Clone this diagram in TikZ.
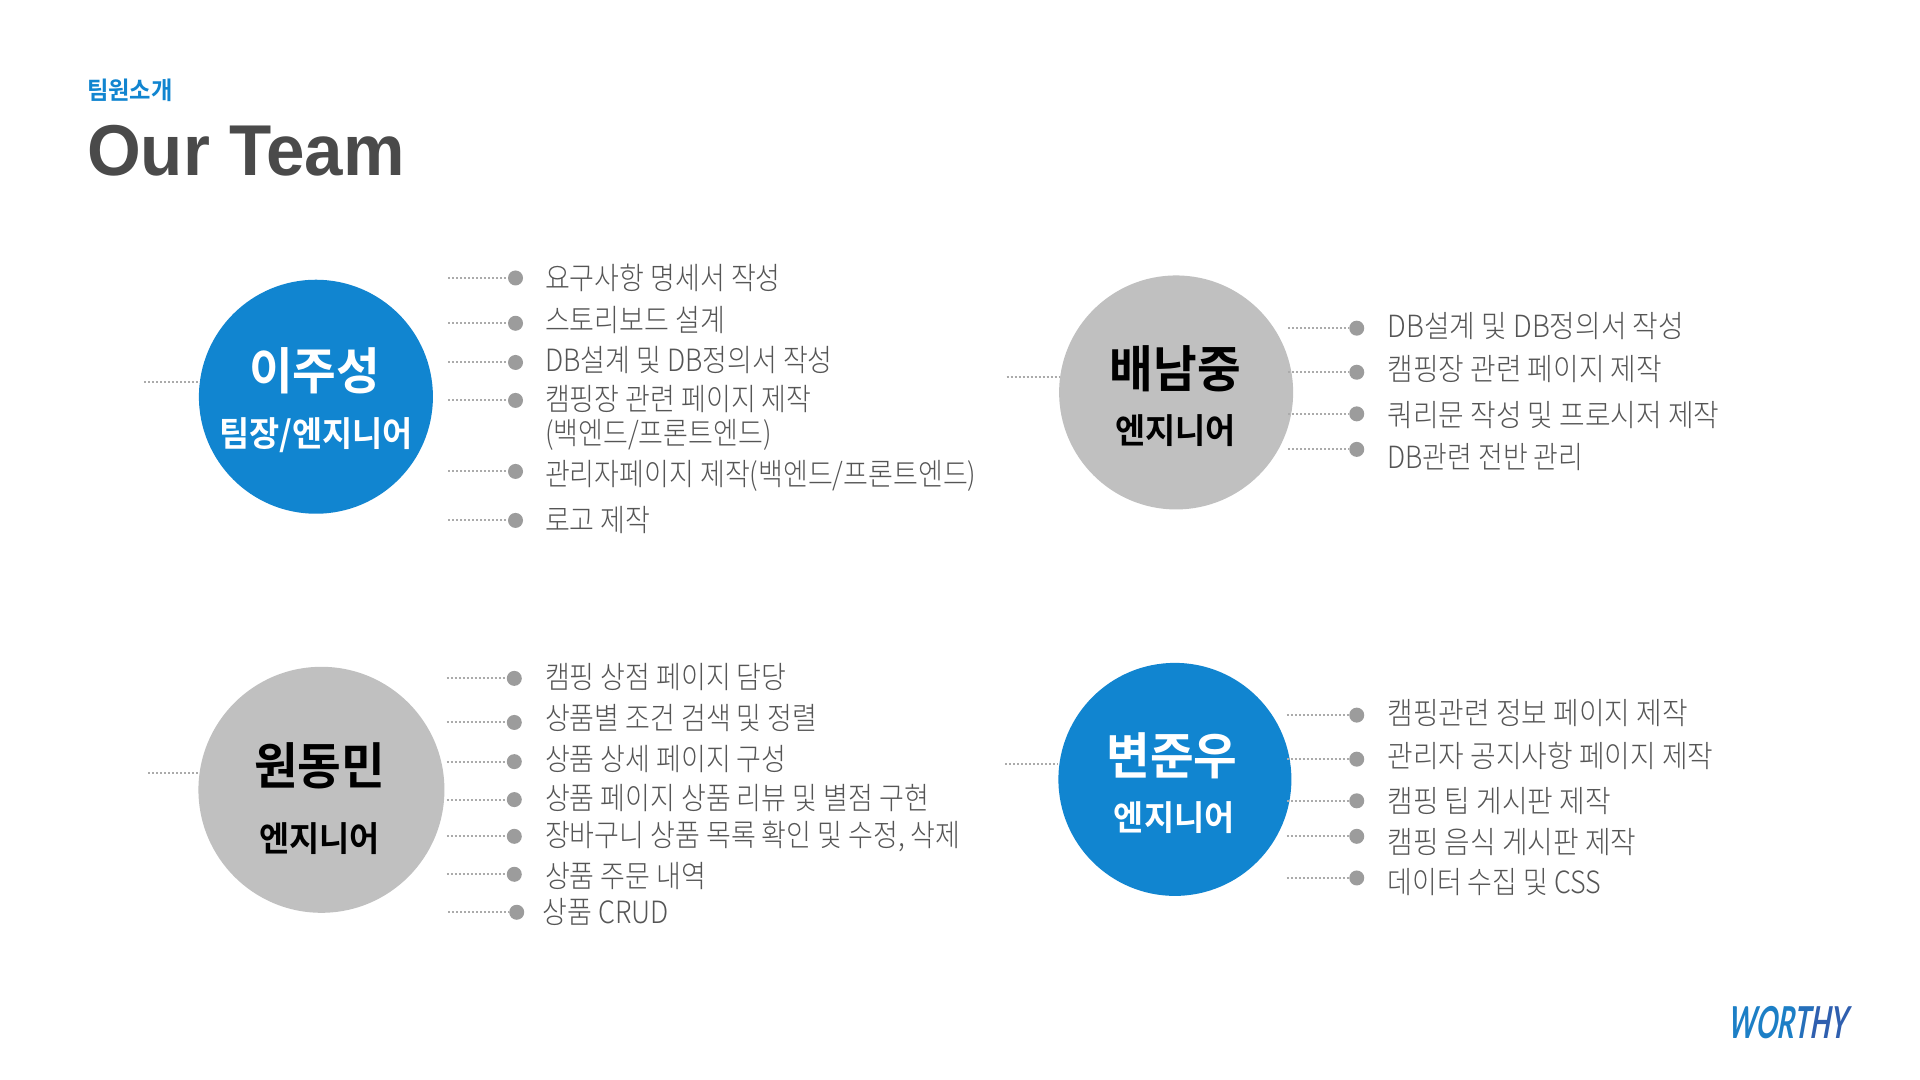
\documentclass[tikz,border=0pt]{standalone}
\usepackage{fontspec}
\setmainfont{Noto Sans CJK KR}
\newfontfamily\krnarrow[FakeStretch=0.88,UprightFont={* Light}]{Noto Sans CJK KR}
\newfontfamily\krwide[FakeStretch=0.91,UprightFont={* Light}]{Noto Sans CJK KR}
\newfontfamily\krbold[FakeStretch=0.95,UprightFont={* Bold}]{Noto Sans CJK KR}
\newfontfamily\titlefont[FakeStretch=0.96]{Liberation Sans}
\newfontfamily\logofont[FakeSlant=0.18,FakeStretch=0.6]{Lato}
\definecolor{teamblue}{HTML}{1185D0}
\definecolor{teamgray}{HTML}{C0C0C0}
\definecolor{dotgray}{HTML}{9C9C9C}
\definecolor{linegray}{HTML}{ABABAB}
\definecolor{bodytext}{HTML}{555555}
\definecolor{titletext}{HTML}{4A4A4A}
\definecolor{logoa}{HTML}{1C7FC6}
\definecolor{logob}{HTML}{2F5FAF}
\tikzset{
  x=1.22449pt,y=-1.22449pt,
  person/.style={circle,minimum size=#1,inner sep=0pt},
  blueperson/.style={person=#1,fill=teamblue},
  grayperson/.style={person=#1,fill=teamgray},
  bigname/.style={inner sep=0pt,font=\krbold\fontsize{50}{50}\selectfont},
  rolename/.style={inner sep=0pt,font=\krbold\fontsize{34.5}{34.5}\selectfont},
  item/.style={anchor=west,inner sep=0pt,text=bodytext,text height=23pt,text depth=0pt,font=\krnarrow\fontsize{30.6}{30.6}\selectfont},
  bullet/.style={circle,fill=dotgray,minimum size=15pt,inner sep=0pt},
  dots/.style={linegray,line width=2pt,dash pattern=on 2pt off 2pt},
}
\newcommand{\itemrow}[8][]{% options, name, line start x, dot x, dot y, text x, text y, text
  \coordinate (#2l) at (#3,#5);
  \node[bullet] (#2d) at (#4,#5) {};
  \draw[dots] (#2l) -- (#2d);
  \node[item,#1] (#2t) at (#6,#7) {#8};
}
\begin{document}
\begin{tikzpicture}
\useasboundingbox (0,0) rectangle (1568,882);
\fill[white] (0,0) rectangle (1568,882);
\node[anchor=west,inner sep=0pt,text=teamblue,font=\krbold\fontsize{24.5}{24.5}\selectfont] (sub) at (71,74) {팀원소개};
\node[anchor=west,inner sep=0pt,text=titletext,font=\titlefont\bfseries\fontsize{72}{72}\selectfont] (title) at (71,123) {Our Team};

% stubs
\coordinate (s1) at (118,312);
\coordinate (s2) at (822,308);
\coordinate (s3) at (121,631);
\coordinate (s4) at (821,624);

\node[blueperson=234pt] (p1) at (258,324) {};
\node[grayperson=234pt] (p2) at (960.5,320.5) {};
\node[grayperson=246pt] (p3) at (262.5,645) {};
\node[blueperson=233pt] (p4) at (959.5,636.5) {};
\draw[dots] (s1) -- (s1 -| p1.west);
\draw[dots] (s2) -- (s2 -| p2.west);
\draw[dots] (s3) -- (s3 -| p3.west);
\draw[dots] (s4) -- (s4 -| p4.west);

\node[bigname,text=white] (n1) at (257,303) {이주성};
\node[rolename,text=white] (r1) at (258,355) {팀장/엔지니어};
\node[bigname,text=black] (n2) at (960,301) {배남중};
\node[rolename,text=black] (r2) at (960,352) {엔지니어};
\node[bigname,text=black] (n3) at (261,625) {원동민};
\node[rolename,text=black] (r3) at (261,685) {엔지니어};
\node[bigname,text=white] (n4) at (957,617) {변준우};
\node[rolename,text=white] (r4) at (959,668) {엔지니어};

\tikzset{leftcol/.style={font=\krnarrow\fontsize{30.7}{30.7}\selectfont},
         rightcol/.style={font=\krwide\fontsize{30.6}{30.6}\selectfont}}
\itemrow[leftcol]{a1}{366}{421}{227}{445}{227}{요구사항 명세서 작성}
\itemrow[leftcol]{a2}{366}{421}{264}{445}{261}{스토리보드 설계}
\itemrow[leftcol]{a3}{366}{421}{296}{445}{294}{DB설계 및 DB정의서 작성}
\itemrow[leftcol]{a4}{366}{421}{327}{445}{326}{캠핑장 관련 페이지 제작}
\node[item,leftcol] (a4b) at (445,353.5) {(백엔드/프론트엔드)};
\itemrow[leftcol]{a5}{366}{421}{385}{445}{387}{관리자페이지 제작(백엔드/프론트엔드)}
\itemrow[leftcol]{a6}{366}{421}{425}{445}{425}{로고 제작}

\itemrow[rightcol]{b1}{1052}{1108}{268}{1133}{266}{DB설계 및 DB정의서 작성}
\itemrow[rightcol]{b2}{1052}{1108}{304}{1133}{301}{캠핑장 관련 페이지 제작}
\itemrow[rightcol]{b3}{1052}{1108}{338}{1133}{339}{쿼리문 작성 및 프로시저 제작}
\itemrow{b4}{1052}{1108}{367}{1133}{373}{DB관련 전반 관리}

\itemrow[leftcol]{c1}{365}{420}{554}{445}{553}{캠핑 상점 페이지 담당}
\itemrow[leftcol]{c2}{365}{420}{590}{445}{586}{상품별 조건 검색 및 정렬}
\itemrow[leftcol]{c3}{365}{420}{622}{445}{620}{상품 상세 페이지 구성}
\itemrow[leftcol]{c4}{365}{420}{653}{445}{652}{상품 페이지 상품 리뷰 및 별점 구현}
\itemrow[leftcol]{c5}{365}{420}{683}{445}{682}{장바구니 상품 목록 확인 및 수정, 삭제}
\itemrow[leftcol]{c6}{365}{420}{714}{445}{715}{상품 주문 내역}
\itemrow[leftcol]{c7}{366}{422}{745}{443}{745}{상품 CRUD}

\itemrow[rightcol]{d1}{1051}{1108}{584}{1133}{582}{캠핑관련 정보 페이지 제작}
\itemrow[rightcol]{d2}{1051}{1108}{620}{1133}{617}{관리자 공지사항 페이지 제작}
\itemrow[rightcol]{d3}{1051}{1108}{654}{1133}{654}{캠핑 팁 게시판 제작}
\itemrow[rightcol]{d4}{1051}{1108}{683}{1133}{688}{캠핑 음식 게시판 제작}
\itemrow{d5}{1051}{1108}{717}{1133}{720}{데이터 수집 및 CSS}

\node[anchor=west,inner sep=0pt,font=\logofont\bfseries\fontsize{44}{44}\selectfont] (logo) at (1411,835) {\textcolor{logoa}{WOR}\textcolor{logoa!50!logob}{T}\textcolor{logob}{HY}};
\end{tikzpicture}
\end{document}
